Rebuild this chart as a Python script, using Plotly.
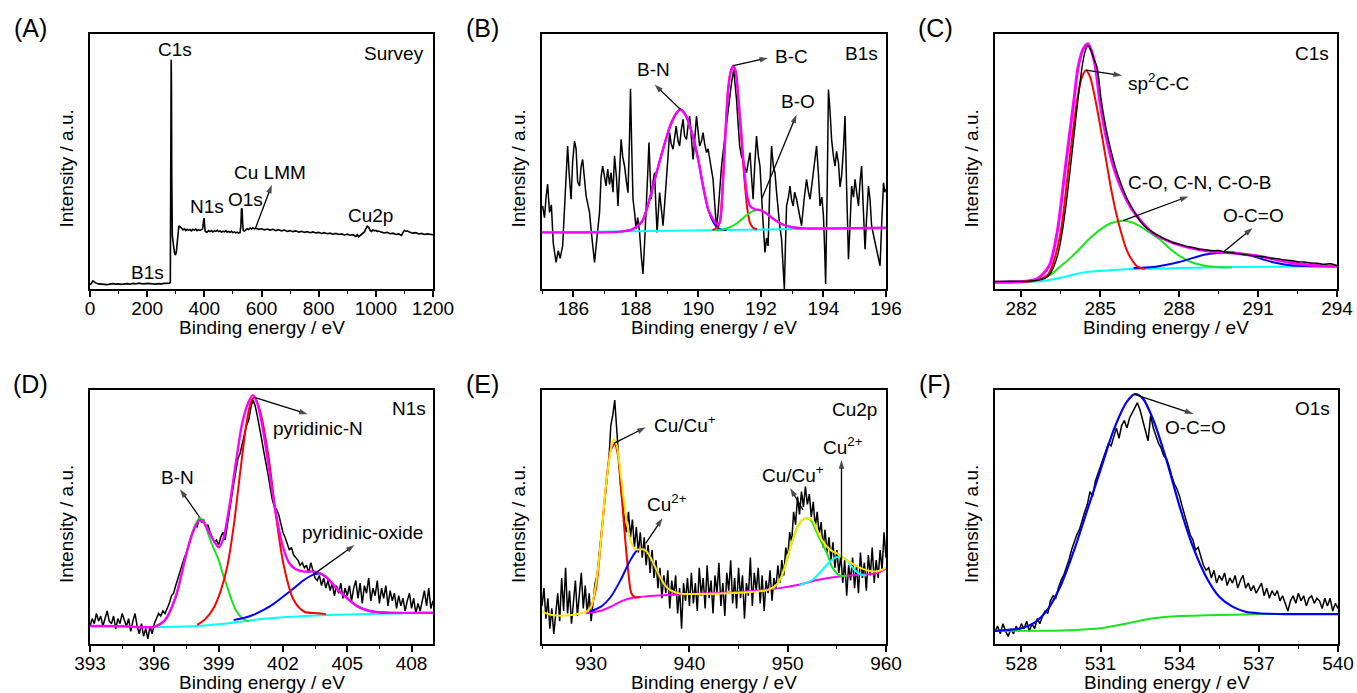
import numpy as np
import plotly.graph_objects as go

W, H = 1357, 693
FONT = "Liberation Sans, Arial, sans-serif"

# ---------------- (A) survey spectrum: (binding energy eV, intensity a.u.) ----------------
survey = [(0, 1.7), (5, 2.2), (10, 3.2), (15, 2.8), (20, 2.4), (30, 2.0), (40, 1.8), (50, 1.9),
          (60, 1.7), (70, 1.9), (80, 2.1), (90, 1.9), (100, 2.0), (110, 1.8), (120, 2.0), (130, 2.1),
          (140, 1.9), (150, 2.2), (160, 2.0), (170, 2.3), (180, 2.1), (190, 2.0), (200, 2.2), (210, 2.0),
          (220, 2.1), (230, 1.9), (240, 2.1), (250, 2.0), (260, 2.2), (270, 2.1), (278, 2.3), (281, 2.6),
          (282, 30), (283, 70), (284, 89.9), (285, 80), (286, 45), (287, 26), (288, 21), (290, 19),
          (293, 16), (296, 14), (299, 13.3), (302, 14.5), (305, 18), (308, 22.5), (311, 24.8), (315, 24.3),
          (320, 24.0), (325, 23.2), (330, 23.6), (335, 22.9), (340, 23.4), (345, 23.0), (350, 23.3),
          (355, 22.8), (360, 23.4), (365, 23.1), (370, 23.5), (375, 22.9), (380, 23.3), (385, 23.0),
          (390, 23.2), (394, 23.6), (397, 26.5), (399, 27.8), (401, 25), (403, 22.6), (406, 22.4),
          (410, 22.3), (415, 22.9), (420, 22.5), (425, 22.9), (430, 22.4), (435, 22.8), (440, 22.6),
          (445, 23.0), (450, 22.5), (455, 22.8), (460, 22.3), (465, 22.7), (470, 22.4), (475, 22.9),
          (480, 22.3), (485, 22.6), (490, 22.2), (495, 22.6), (500, 22.1), (505, 22.4), (510, 22.0),
          (515, 22.3), (520, 21.9), (525, 22.1), (528, 25), (530, 31.6), (532, 31.4), (534, 26),
          (536, 23.0), (540, 22.7), (545, 23.2), (550, 23.6), (555, 23.3), (560, 23.9), (565, 23.5),
          (570, 24.0), (575, 23.6), (580, 23.8), (590, 23.4), (600, 23.6), (610, 23.2), (620, 23.5),
          (630, 23.1), (640, 23.4), (650, 22.9), (660, 23.2), (670, 22.8), (680, 23.1), (690, 22.6),
          (700, 22.9), (710, 22.5), (720, 22.8), (730, 22.3), (740, 22.6), (750, 22.2), (760, 22.5),
          (770, 22.1), (780, 22.4), (790, 22.0), (800, 22.2), (810, 21.8), (820, 22.1), (830, 21.7),
          (840, 21.9), (850, 21.5), (860, 21.8), (870, 21.4), (880, 21.6), (890, 21.2), (900, 21.5),
          (910, 21.1), (920, 21.3), (930, 20.6), (935, 21.3), (940, 20.5), (945, 21.0), (950, 21.4),
          (955, 22.0), (960, 22.4), (965, 23.6), (970, 24.6), (975, 24.2), (980, 23.0), (985, 22.6),
          (990, 23.2), (995, 22.8), (1000, 23.0), (1005, 22.5), (1010, 22.7), (1020, 22.3), (1030, 22.0),
          (1040, 22.2), (1050, 21.7), (1060, 21.9), (1070, 21.4), (1080, 21.6), (1090, 21.0),
          (1095, 22.2), (1100, 23.0), (1105, 22.6), (1110, 22.8), (1120, 22.2), (1130, 21.9),
          (1140, 22.1), (1150, 21.6), (1160, 21.8), (1170, 21.4), (1180, 21.6), (1190, 21.3), (1200, 21.3)]

# ---------------- (B) B1s ----------------
b1s_raw = [(185.02, 32.6), (185.08, 28), (185.13, 36), (185.18, 41.1), (185.24, 30), (185.3, 33),
           (185.36, 18), (185.45, 10.4), (185.52, 15), (185.58, 12), (185.66, 16.9), (185.72, 30),
           (185.78, 44), (185.82, 56.1), (185.87, 45), (185.93, 35.2), (185.98, 50), (186.04, 58.0),
           (186.09, 55), (186.14, 42), (186.2, 40.4), (186.25, 48), (186.3, 50.8), (186.36, 42),
           (186.41, 36.5), (186.47, 33), (186.52, 30.0), (186.58, 22), (186.63, 15), (186.68, 10.4),
           (186.74, 18), (186.79, 25), (186.84, 30.0), (186.89, 44), (186.94, 48.2), (187.0, 44),
           (187.05, 40.4), (187.1, 47), (187.16, 41), (187.21, 45.6), (187.27, 38), (187.32, 52.2),
           (187.38, 44), (187.43, 32.6), (187.48, 46), (187.53, 58.7), (187.58, 52), (187.64, 48.2),
           (187.7, 42), (187.75, 37.8), (187.8, 60), (187.83, 78.5), (187.87, 55), (187.91, 35.2),
           (187.96, 30), (188.01, 23.5), (188.06, 28), (188.12, 22.2), (188.18, 12), (188.23, 5.9),
           (188.28, 18), (188.33, 30.0), (188.38, 45), (188.42, 57.4), (188.46, 44), (188.49, 35.2),
           (188.55, 42), (188.6, 45.6), (188.64, 33), (188.68, 22.2), (188.72, 30), (188.76, 37.8),
           (188.82, 31), (188.87, 24.8), (188.92, 33), (188.97, 40.4), (189.03, 52), (189.08, 61.3),
           (189.13, 57), (189.19, 54.8), (189.24, 60), (189.29, 63.9), (189.35, 58), (189.4, 56.1),
           (189.45, 62), (189.51, 66.5), (189.56, 60), (189.62, 58.7), (189.67, 64), (189.72, 67.8),
           (189.78, 59), (189.83, 50.8), (189.88, 58), (189.94, 67.8), (189.99, 62), (190.04, 56.1),
           (190.1, 58), (190.15, 61.3), (190.2, 57), (190.26, 53.5), (190.31, 55), (190.36, 50.8),
           (190.42, 47), (190.47, 43.0), (190.52, 34), (190.58, 23.5), (190.63, 30), (190.68, 40.4),
           (190.74, 48), (190.79, 53.5), (190.85, 60), (190.9, 63.9), (190.98, 72), (191.06, 80.8),
           (191.13, 86.0), (191.18, 80), (191.22, 74.3), (191.27, 65), (191.32, 56.1), (191.38, 52),
           (191.43, 50.8), (191.48, 48), (191.54, 45.6), (191.6, 50), (191.65, 53.5), (191.7, 44),
           (191.75, 35.2), (191.8, 48), (191.86, 60.0), (191.92, 52), (191.97, 48.2), (192.05, 30),
           (192.13, 14.3), (192.18, 20), (192.23, 16.9), (192.28, 38), (192.34, 56.1), (192.4, 48),
           (192.45, 45.6), (192.5, 38), (192.55, 30.0), (192.6, 25), (192.66, 19.6), (192.7, 10),
           (192.75, 0), (192.78, 15), (192.82, 32.6), (192.88, 36), (192.93, 40.4), (192.98, 35),
           (193.03, 32.6), (193.08, 38), (193.14, 35.2), (193.22, 30), (193.3, 24.8), (193.38, 35),
           (193.46, 43.0), (193.52, 38), (193.57, 35.2), (193.62, 40), (193.68, 45.6), (193.73, 52),
           (193.78, 56.1), (193.84, 45), (193.89, 32.6), (193.95, 36), (194.0, 28.7), (194.04, 15),
           (194.07, 2.0), (194.12, 40), (194.16, 78.2), (194.21, 70), (194.26, 58.7), (194.32, 52),
           (194.37, 48.2), (194.42, 54), (194.48, 49.5), (194.53, 40), (194.58, 44.3), (194.64, 55),
           (194.69, 67.8), (194.74, 40), (194.8, 11.7), (194.85, 25), (194.9, 40.4), (194.96, 36),
           (195.01, 43.0), (195.06, 38), (195.12, 32.6), (195.17, 42), (195.22, 48.2), (195.28, 30),
           (195.33, 15.6), (195.38, 28), (195.44, 40.4), (195.49, 35), (195.54, 24.8), (195.62, 20),
           (195.71, 14.3), (195.76, 12), (195.81, 9.1), (195.86, 25), (195.92, 41.7), (195.96, 38),
           (196.0, 39.1)]
b1s_background = [(185.0, 22.2), (190.0, 23.0), (193.3, 23.7), (196.0, 24.0)]
b1s_envelope = [(185.0, 22.2), (187.5, 22.5), (187.9, 23.5), (188.2, 26.5), (188.44, 35.2), (188.65, 45),
                (188.87, 54.8), (189.1, 64), (189.3, 69), (189.43, 70.4), (189.6, 68), (189.8, 61),
                (190.0, 50.5), (190.15, 40.4), (190.32, 31), (190.47, 27.4), (190.6, 25.5), (190.68, 26),
                (190.79, 43), (190.87, 62), (190.95, 78), (191.04, 85.5), (191.12, 87.6), (191.2, 85),
                (191.28, 75), (191.38, 60), (191.48, 45), (191.57, 36), (191.65, 32.6), (191.8, 31.3),
                (191.97, 31), (192.15, 29.8), (192.4, 27.5), (192.7, 25.3), (193.0, 24.2), (193.3, 23.8),
                (196.0, 24.0)]
b1s_bn = [(187.5, 22.5), (187.9, 23.5), (188.2, 26.5), (188.44, 35.2), (188.65, 45), (188.87, 54.8),
          (189.1, 64), (189.3, 69), (189.43, 70.4), (189.6, 68), (189.8, 61), (190.0, 50.5), (190.15, 40.4),
          (190.32, 31), (190.47, 26.5), (190.6, 24.2), (190.75, 23.3), (190.9, 23.1)]
b1s_bc = [(190.45, 23.1), (190.6, 24.0), (190.68, 26), (190.79, 43), (190.87, 62), (190.95, 78),
          (191.04, 85.5), (191.12, 87.3), (191.2, 84.5), (191.28, 74), (191.38, 58), (191.48, 42),
          (191.57, 31), (191.65, 26), (191.75, 24), (191.88, 23.4)]
b1s_bo = [(190.55, 23.1), (190.8, 23.4), (191.0, 24.2), (191.2, 25.5), (191.4, 27.5), (191.6, 29.5),
          (191.8, 30.8), (191.97, 31.0), (192.15, 29.8), (192.4, 27.5), (192.7, 25.3), (193.0, 24.2),
          (193.3, 23.7)]

# ---------------- (C) C1s ----------------
c1s_raw = [(281.0, 3.0), (281.5, 3.1), (282.0, 3.0), (282.5, 3.3), (282.9, 4.2), (283.1, 6.0), (283.24, 8.9),
           (283.4, 14), (283.55, 22), (283.7, 33), (283.87, 48), (284.0, 60), (284.15, 74), (284.31, 87),
           (284.42, 93), (284.53, 95.4), (284.65, 93.5), (284.76, 90), (284.88, 87), (285.04, 74),
           (285.26, 61), (285.57, 48), (285.8, 41), (286.04, 35), (286.4, 28.5), (286.7, 24.5), (287.0, 22.2),
           (287.25, 20.7), (287.5, 19.4), (287.75, 18.2), (288.0, 17.6), (288.25, 16.7), (288.5, 16.3),
           (288.75, 15.6), (289.0, 15.4), (289.25, 15.0), (289.5, 15.1), (289.75, 14.4), (290.0, 14.2),
           (290.25, 13.8), (290.5, 13.5), (290.75, 13.1), (291.0, 12.8), (291.25, 12.6), (291.5, 12.0),
           (291.75, 11.9), (292.0, 11.4), (292.25, 11.2), (292.5, 10.7), (292.75, 10.6), (293.0, 10.2),
           (293.25, 10.1), (293.5, 9.7), (293.75, 9.9), (294.0, 9.2)]
c1s_background = [(281.0, 2.4), (282.73, 3.0), (283.5, 4.4), (284.25, 6.3), (285.2, 7.2), (286.27, 7.8),
                  (287.8, 8.2), (289.43, 8.5), (291.5, 8.7), (294.0, 8.9)]
c1s_envelope = [(281.0, 2.6), (282.0, 2.9), (282.6, 4.0), (283.05, 8.9), (283.36, 22), (283.68, 48),
                (284.0, 74), (284.16, 87), (284.35, 94), (284.53, 96.2), (284.68, 93), (284.82, 87),
                (284.98, 74), (285.2, 61), (285.5, 48), (286.0, 35), (286.4, 28.5), (287.0, 22),
                (287.8, 18), (288.8, 15.4), (289.55, 14.5), (290.3, 13.8), (291.07, 12.8), (292.33, 10.2),
                (293.2, 9.2), (294.0, 8.9)]
c1s_sp2 = [(282.0, 2.8), (282.5, 3.2), (283.0, 5.5), (283.17, 8.9), (283.49, 22), (283.8, 48),
           (284.12, 74), (284.3, 83), (284.46, 85.8), (284.62, 83), (284.8, 75), (285.0, 64), (285.2, 52),
           (285.4, 40), (285.6, 30), (285.8, 22), (286.0, 15.4), (286.2, 11.5), (286.4, 8.9), (286.7, 7.9)]
c1s_co = [(282.0, 2.7), (282.73, 3.9), (283.1, 5.5), (283.49, 8.9), (283.9, 12.5), (284.25, 16.1),
          (284.6, 19.8), (285.0, 23.3), (285.4, 25.8), (285.87, 26.8), (286.2, 26.2), (286.52, 24.6),
          (286.9, 22), (287.28, 19.3), (287.65, 15.8), (288.04, 12.8), (288.4, 10.8), (288.8, 9.5),
          (289.2, 8.8), (289.55, 8.5), (290.0, 8.5)]
c1s_oco = [(286.27, 8.2), (287.0, 8.6), (287.53, 9.5), (288.0, 10.6), (288.54, 12.2), (289.0, 13.5),
           (289.43, 14.1), (289.8, 14.4), (290.06, 14.3), (290.4, 13.7), (290.82, 12.8), (291.2, 11.6),
           (291.57, 10.5), (291.95, 9.7), (292.33, 9.2), (292.8, 9.0), (293.2, 8.9), (294.0, 8.9)]

# ---------------- (D) N1s, 393-409 eV in 0.1 eV steps ----------------
n1s_counts = [7, 10, 8, 12, 9, 11, 7, 10, 13, 9,
              8, 11, 6, 10, 8, 12, 9, 7, 10, 5,
              9, 12, 7, 4, 8, 3, 6, 2, 7, 4,
              8, 10, 12, 11, 13, 12, 14, 16, 19, 20,
              23, 26, 28, 31, 34, 36, 39, 42, 45, 47,
              46, 50, 48, 49, 46, 47, 44, 42, 40, 41,
              39, 42, 44, 41, 47, 52, 58, 63, 68, 73,
              75, 79, 83, 86, 88, 93, 96, 94, 90, 86,
              81, 76, 72, 67, 62, 57, 54, 53, 51, 47,
              44, 42, 39, 37, 38, 35, 34, 33, 31, 32,
              30, 31, 28, 32, 29, 26, 25, 27, 23, 26,
              22, 25, 21, 24, 19, 23, 20, 24, 18, 22,
              19, 23, 17, 22, 25, 18, 24, 16, 23, 20,
              26, 17, 22, 19, 25, 16, 22, 18, 23, 15,
              21, 17, 20, 14, 19, 15, 18, 13, 17, 20,
              14, 18, 12, 16, 13, 17, 21, 15, 22, 14,
              17]
n1s_background = [(396.0, 6.6), (397.0, 6.8), (398.0, 7.1), (399.0, 7.8), (400.0, 8.8), (401.0, 9.8),
                  (402.0, 10.5), (403.0, 11.0), (404.0, 11.4), (406.0, 11.8), (409.0, 12.3)]
n1s_envelope = [(393.0, 7.1), (394.5, 7.0), (396.0, 6.8), (396.5, 9.4), (397.0, 18.6), (397.5, 35.7),
                (397.8, 44), (398.1, 48.8), (398.3, 48), (398.5, 44.9), (398.8, 40.3), (399.0, 38.1),
                (399.2, 40.9), (399.5, 54), (399.8, 71.1), (400.1, 86.9), (400.4, 95.4), (400.6, 98),
                (400.8, 94.8), (401.1, 82.9), (401.4, 65.9), (401.7, 50.1), (402.0, 38.3), (402.3, 31.8),
                (402.6, 29.4), (403.0, 28.5), (403.5, 28.5), (404.0, 26.5), (404.5, 21.9), (405.0, 18.0),
                (405.5, 14.7), (406.0, 13.1), (406.5, 12.5), (407.0, 12.3), (409.0, 12.3)]
n1s_bn = [(396.0, 6.8), (396.5, 9.4), (397.0, 18.6), (397.5, 35.7), (397.8, 44.5), (398.1, 49.5),
          (398.3, 48.5), (398.5, 43.6), (398.75, 38), (399.0, 33.1), (399.2, 27.5), (399.4, 22.6),
          (399.6, 17.5), (399.8, 13.4), (400.1, 10.1), (400.4, 8.8)]
n1s_pyridinic = [(398.0, 7.5), (398.4, 10), (398.8, 14.7), (399.1, 21), (399.4, 30.4), (399.7, 46.2),
                 (400.0, 67.2), (400.3, 86.9), (400.5, 95), (400.67, 97.1), (400.85, 94), (401.0, 89.5),
                 (401.35, 72.4), (401.66, 51.4), (402.05, 30.4), (402.5, 17.3), (403.0, 12.7),
                 (403.6, 12.1), (404.0, 11.8)]
n1s_oxide = [(399.7, 9.4), (400.2, 10.3), (400.6, 11.4), (401.1, 13.4), (401.6, 16.0), (402.0, 18.6),
             (402.5, 21.9), (403.0, 25.3), (403.46, 27.4), (403.75, 27.7), (404.0, 26.5), (404.5, 21.9),
             (405.0, 18.0), (405.5, 14.7), (406.0, 13.1), (406.5, 12.5), (407.0, 12.3)]

# ---------------- (E) Cu2p, 925-960 eV in 0.2 eV steps ----------------
cu2p_counts = [15, 22, 10, 18, 6, 14, 4, 12, 20, 9,
               26, 13, 30, 12, 21, 8, 17, 25, 11, 19,
               28, 14, 23, 12, 20, 9, 18, 24, 27, 35,
               40, 50, 58, 66, 72, 86, 90, 96, 84, 74,
               62, 56, 48, 44, 52, 42, 49, 38, 46, 36,
               44, 34, 42, 31, 39, 28, 37, 26, 33, 22,
               30, 18, 27, 20, 29, 14, 25, 19, 27, 12,
               22, 6, 24, 17, 26, 15, 28, 16, 24, 13,
               30, 19, 26, 14, 31, 18, 25, 12, 27, 20,
               32, 15, 24, 11, 28, 21, 33, 16, 26, 14,
               30, 18, 27, 10, 24, 19, 34, 15, 28, 21,
               30, 16, 27, 13, 25, 20, 29, 17, 26, 22,
               31, 24, 33, 27, 38, 34, 44, 40, 52, 47,
               58, 51, 60, 54, 62, 55, 59, 50, 56, 46,
               52, 43, 48, 38, 45, 36, 42, 33, 40, 30,
               37, 28, 35, 24, 33, 19, 31, 25, 34, 22,
               31, 20, 36, 26, 32, 21, 35, 27, 38, 24,
               33, 26, 37, 29, 44, 34]
cu2p_background = [(929.5, 12.1), (931.0, 13.1), (932.0, 14.7), (933.0, 16.7), (934.0, 18.0), (936.0, 18.9),
                   (940.0, 19.7), (945.0, 20.5), (949.0, 21.9), (951.0, 23.2), (953.0, 25.2), (955.0, 26.5),
                   (957.0, 27.2), (959.0, 27.8), (960.0, 29.7)]
cu2p_envelope = [(925.0, 12.7), (926.0, 11.4), (928.0, 11.4), (929.5, 12.7), (930.0, 14.7), (930.5, 23.9),
                 (931.0, 40.9), (931.5, 61.9), (932.0, 76.4), (932.3, 80.6), (932.6, 78.3), (933.0, 67.2),
                 (933.5, 51.4), (934.0, 40.9), (934.5, 37.3), (935.0, 37.3), (935.5, 37.0), (936.0, 34.4),
                 (936.5, 30.4), (937.0, 26.5), (937.5, 23.2), (938.0, 21.3), (939.0, 19.9), (940.0, 19.7),
                 (945.0, 20.2), (948.0, 21.3), (949.0, 23.9), (949.5, 27.8), (950.0, 34.4), (950.5, 40.9),
                 (951.0, 46.2), (951.5, 48.8), (952.0, 49.5), (952.5, 48.8), (953.0, 44.9), (953.5, 40.9),
                 (954.0, 38.3), (954.5, 36.6), (955.0, 35.7), (955.5, 34.4), (956.0, 33.1), (957.0, 30.7),
                 (958.0, 29.1), (958.8, 28.5), (959.5, 29.1), (960.0, 30.1)]
cu2p_main = [(930.0, 14.0), (930.5, 22), (931.0, 40.9), (931.5, 61.9), (932.0, 76.4), (932.4, 78.5),
             (932.7, 75), (933.0, 63.3), (933.5, 39.6), (933.8, 27.8), (934.1, 19.9), (934.5, 18.4),
             (935.0, 18.5)]
cu2p_sat = [(929.8, 12.7), (931.0, 14.7), (932.0, 18.6), (933.0, 25.2), (934.0, 33.1), (934.8, 37.3),
            (935.5, 37.0), (936.0, 34.4), (936.5, 30.4), (937.0, 26.5), (937.5, 23.2), (938.0, 21.3),
            (939.0, 19.9), (940.0, 19.7)]
cu2p_main2 = [(948.5, 21.7), (949.0, 23.9), (949.5, 27.8), (950.0, 34.4), (950.5, 40.9), (951.0, 46.2),
              (951.5, 48.8), (952.0, 49.5), (952.4, 48.5), (953.0, 43.6), (953.5, 39.5), (954.0, 35.7),
              (954.5, 30.4), (955.0, 27.8), (955.5, 26.8), (956.0, 26.9)]
cu2p_sat2 = [(951.2, 23.2), (952.5, 25.2), (953.5, 29.1), (954.5, 33.1), (955.3, 34.4), (956.0, 33.1),
             (956.8, 29.1), (957.5, 27.2), (958.0, 27.0)]

# ---------------- (F) O1s, 527-540 eV in 0.1 eV steps ----------------
o1s_counts = [5, 7, 4, 8, 5, 3, 6, 4, 7, 5,
              8, 6, 9, 5, 8, 6, 10, 8, 11, 13,
              12, 17, 19, 18, 22, 25, 27, 30, 33, 37,
              40, 43, 45, 49, 52, 55, 60, 58, 64, 67,
              70, 73, 76, 79, 78, 82, 85, 81, 86, 88,
              85, 89, 91, 93, 95, 92, 88, 85, 80, 90,
              85, 82, 79, 77, 74, 73, 70, 66, 63, 61,
              58, 54, 50, 47, 43, 41, 37, 38, 34, 31,
              29, 30, 26, 29, 24, 27, 25, 28, 23, 26,
              24, 27, 22, 25, 27, 22, 24, 21, 23, 20,
              22, 24, 19, 22, 18, 21, 19, 21, 17, 19,
              16, 13, 17, 19, 16, 20, 17, 19, 15, 18,
              19, 16, 18, 17, 14, 18, 15, 18, 13, 16,
              14]
o1s_background = [(527.0, 5.2), (529.0, 5.2), (530.0, 5.5), (531.0, 6.2), (532.0, 8.1), (533.0, 10.1),
                  (534.0, 11.0), (535.0, 11.3), (536.0, 11.5), (537.0, 11.8), (540.0, 11.8)]
o1s_peak = [(527.0, 5.2), (528.0, 6.2), (528.5, 8.4), (529.0, 13.6), (529.5, 23.2), (530.0, 37.0),
            (530.5, 52.8), (531.0, 68.5), (531.5, 84.3), (532.0, 95.4), (532.3, 98.4), (532.6, 96.7),
            (533.0, 88.2), (533.5, 72.4), (534.0, 54.1), (534.5, 38.3), (535.0, 26.5), (535.5, 18.6),
            (536.0, 14.7), (536.5, 12.7), (537.0, 12.1), (538.0, 11.8), (540.0, 11.8)]

# ---------------- panel geometry (pixels) and axis settings ----------------
panels = {
    "A": dict(px=(90, 433), py=(34, 289), rng=(0, 1200), tick0=0, dtick=200, minor=100),
    "B": dict(px=(542, 886), py=(34, 289), rng=(185, 196), tick0=186, dtick=2, minor=1),
    "C": dict(px=(995, 1337), py=(34, 289), rng=(281, 294), tick0=282, dtick=3, minor=1.5),
    "D": dict(px=(90, 433), py=(390, 644), rng=(393, 409), tick0=393, dtick=3, minor=1.5),
    "E": dict(px=(542, 886), py=(390, 644), rng=(925, 960), tick0=930, dtick=10, minor=5),
    "F": dict(px=(995, 1338), py=(390, 644), rng=(527, 540), tick0=528, dtick=3, minor=1.5),
}
order = ["A", "B", "C", "D", "E", "F"]
axis_id = {k: ("" if i == 0 else str(i + 1)) for i, k in enumerate(order)}

fig = go.Figure()


def add_curve(panel, pts, color, width, spline=False):
    xs, ys = zip(*pts)
    n = axis_id[panel]
    fig.add_trace(go.Scatter(x=list(xs), y=list(ys), mode="lines",
                             line=dict(color=color, width=width,
                                       shape="spline" if spline else "linear", smoothing=0.8),
                             xaxis="x" + n, yaxis="y" + n, hoverinfo="skip"))


def add_counts(panel, start, stop, counts, color="black", width=1.5):
    n = axis_id[panel]
    xs = np.linspace(start, stop, len(counts))
    fig.add_trace(go.Scatter(x=xs, y=counts, mode="lines", line=dict(color=color, width=width),
                             xaxis="x" + n, yaxis="y" + n, hoverinfo="skip"))


RED, GREEN, BLUE, CYAN, MAGENTA, YELLOW = "#FF0000", "#19E619", "#0000FF", "#00FFFF", "#FF00FF", "#FFE600"

# (A)
add_curve("A", survey, "black", 1.6)
# (B)
add_curve("B", b1s_raw, "black", 1.5)
add_curve("B", b1s_background, CYAN, 2)
add_curve("B", b1s_bn, BLUE, 2, True)
add_curve("B", b1s_bc, RED, 2, True)
add_curve("B", b1s_bo, GREEN, 2, True)
add_curve("B", b1s_envelope, MAGENTA, 2.4, True)
# (C)
add_curve("C", c1s_background, CYAN, 2, True)
add_curve("C", c1s_co, GREEN, 2, True)
add_curve("C", c1s_oco, BLUE, 2, True)
add_curve("C", c1s_envelope, MAGENTA, 3, True)
add_curve("C", c1s_sp2, RED, 2, True)
add_curve("C", c1s_raw, "black", 1.4, True)
# (D)
add_counts("D", 393, 409, n1s_counts)
add_curve("D", n1s_background, CYAN, 2, True)
add_curve("D", n1s_bn, GREEN, 2, True)
add_curve("D", n1s_oxide, BLUE, 2, True)
add_curve("D", n1s_pyridinic, RED, 2, True)
add_curve("D", n1s_envelope, MAGENTA, 2.4, True)
# (E)
add_counts("E", 925, 960, cu2p_counts)
add_curve("E", cu2p_background, MAGENTA, 2, True)
add_curve("E", cu2p_main, RED, 2, True)
add_curve("E", cu2p_sat, BLUE, 2, True)
add_curve("E", cu2p_main2, GREEN, 2, True)
add_curve("E", cu2p_sat2, CYAN, 2, True)
add_curve("E", cu2p_envelope, YELLOW, 2, True)
# (F)
add_counts("F", 527, 540, o1s_counts)
add_curve("F", o1s_background, GREEN, 2, True)
add_curve("F", o1s_peak, BLUE, 2.2, True)

layout = dict(width=W, height=H, margin=dict(l=0, r=0, t=0, b=0, pad=0), autosize=False,
              template="none",
              paper_bgcolor="white", plot_bgcolor="white", showlegend=False,
              font=dict(family=FONT, size=19, color="black"))

annotations = []
for k in order:
    p = panels[k]
    n = axis_id[k]
    x0, x1 = p["px"]
    y0, y1 = p["py"]
    layout["xaxis" + n] = dict(
        domain=[x0 / W, x1 / W], range=list(p["rng"]), anchor="y" + n, automargin=False,
        showline=True, mirror=True, linecolor="black", linewidth=1.5,
        ticks="outside", ticklen=6, tickwidth=1.5, tickcolor="black",
        tick0=p["tick0"], dtick=p["dtick"],
        minor=dict(ticks="outside", ticklen=3.5, tickwidth=1.2, tickcolor="black",
                   tick0=p["tick0"], dtick=p["minor"]),
        showgrid=False, zeroline=False, ticklabelstandoff=-5,
        tickfont=dict(family=FONT, size=19, color="black"))
    layout["yaxis" + n] = dict(
        domain=[1 - y1 / H, 1 - y0 / H], range=[0, 100], anchor="x" + n, automargin=False,
        showline=True, mirror=True, linecolor="black", linewidth=1.5,
        ticks="", showticklabels=False, showgrid=False, zeroline=False)
    # axis titles
    annotations.append(dict(text="Binding energy / eV", xref="paper", yref="paper",
                            x=(x0 + x1) / 2 / W, y=1 - (y1 + 38) / H, showarrow=False,
                            xanchor="center", yanchor="middle", font=dict(size=19)))
    annotations.append(dict(text="Intensity / a.u.", xref="paper", yref="paper",
                            x=(x0 - 24) / W, y=1 - ((y0 + y1) / 2 + 7) / H, showarrow=False,
                            textangle=-90, xanchor="center", yanchor="middle", font=dict(size=19)))
    # panel letter
    annotations.append(dict(text="(%s)" % k, xref="paper", yref="paper",
                            x=(x0 - 60) / W, y=1 - (y0 - 6) / H, showarrow=False,
                            xanchor="center", yanchor="middle", font=dict(size=25)))


def label(panel, text, x, y):
    n = axis_id[panel]
    annotations.append(dict(text=text, x=x, y=y, xref="x" + n, yref="y" + n, showarrow=False,
                            xanchor="center", yanchor="middle", font=dict(size=19)))


def arrow(panel, tail, head):
    # pointer line from the peak to its label, with an arrowhead marker at the label end
    n = axis_id[panel]
    fig.add_trace(go.Scatter(x=[tail[0], head[0]], y=[tail[1], head[1]], mode="lines+markers",
                             line=dict(color="black", width=1.3),
                             marker=dict(symbol=["circle", "arrow"], size=[0, 9], color="black",
                                         angleref="previous", line=dict(width=0)),
                             xaxis="x" + n, yaxis="y" + n, hoverinfo="skip", cliponaxis=False))


label("A", "C1s", 297.7, 93.9)
label("A", "Survey", 1063, 92.3)
label("A", "N1s", 408.6, 32.2)
label("A", "O1s", 544, 35.0)
label("A", "Cu LMM", 630.4, 45.5)
label("A", "Cu2p", 980.7, 28.8)
label("A", "B1s", 200.8, 6.3)
arrow("A", (577.9, 23.5), (636.3, 40.9))

label("B", "B1s", 195.22, 92.4)
label("B", "B-N", 188.55, 85.9)
label("B", "B-C", 192.98, 91.3)
label("B", "B-O", 193.17, 73.4)
arrow("B", (189.43, 70.4), (188.6, 80.2))
arrow("B", (191.12, 87.6), (192.23, 90.6))
arrow("B", (192.02, 35.2), (193.14, 68.4))

label("C", "C1s", 293.05, 92.5)
label("C", "sp<sup>2</sup>C-C", 287.22, 81.0)
label("C", "C-O, C-N, C-O-B", 288.8, 41.8)
label("C", "O-C=O", 290.82, 29.0)
arrow("C", (284.46, 85.8), (285.83, 83.7))
arrow("C", (285.87, 26.8), (288.35, 36.3))
arrow("C", (289.68, 14.5), (290.79, 23.9))

label("D", "N1s", 407.87, 92.7)
label("D", "pyridinic-N", 403.62, 84.9)
label("D", "B-N", 397.09, 65.7)
label("D", "pyridinic-oxide", 405.73, 44.0)
arrow("D", (400.67, 97.1), (403.15, 90.5))
arrow("D", (398.1, 50.1), (397.2, 60.9))
arrow("D", (403.46, 27.6), (405.34, 39.0))

label("E", "Cu2p", 956.83, 92.5)
label("E", "Cu/Cu<sup>+</sup>", 939.57, 86.5)
label("E", "Cu<sup>2+</sup>", 937.76, 55.4)
label("E", "Cu/Cu<sup>+</sup>", 950.53, 66.9)
label("E", "Cu<sup>2+</sup>", 955.67, 78.0)
arrow("E", (932.3, 79.0), (935.55, 85.3))
arrow("E", (935.55, 39.6), (937.25, 49.5))
arrow("E", (951.55, 52.8), (950.26, 61.3))
arrow("E", (955.47, 33.1), (955.47, 72.4))

label("F", "O1s", 539.02, 92.7)
label("F", "O-C=O", 534.61, 85.3)
arrow("F", (532.26, 98.4), (534.52, 90.6))

layout["annotations"] = annotations
fig.update_layout(**layout)
fig.write_html("out.html")
